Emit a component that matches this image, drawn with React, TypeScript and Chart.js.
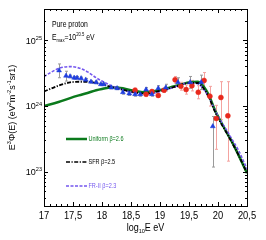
import { useEffect, useRef } from "react";
import { Chart, registerables } from "chart.js";
Chart.register(...registerables);

// ---- model curves (log10 E, E^3 Phi) ----
const modelEnergy = [17.0, 17.25, 17.45, 17.6, 17.75, 17.9, 18.0, 18.16, 18.25, 18.5, 18.75, 19.0, 19.25, 19.5, 19.65, 19.75, 19.85, 19.95, 20.05, 20.15, 20.25, 20.35, 20.5];
const uniformFlux = [1.0e24, 1.15e24, 1.32e24, 1.45e24, 1.58e24, 1.74e24, 1.82e24, 1.91e24, 1.91e24, 1.74e24, 1.62e24, 1.74e24, 2.0e24, 2.29e24, 2.34e24, 2.0e24, 1.41e24, 8.5e23, 5.75e23, 3.98e23, 2.75e23, 1.82e23, 9.5e22];
const sfrFlux = [1.66e24, 2.04e24, 2.29e24, 2.34e24, 2.34e24, 2.24e24, 2.14e24, 1.95e24, 1.86e24, 1.66e24, 1.55e24, 1.7e24, 1.95e24, 2.24e24, 2.24e24, 1.86e24, 1.32e24, 8.13e23, 5.5e23, 3.89e23, 2.69e23, 1.82e23, 9.5e22];
const fr2Flux = [2.82e24, 3.72e24, 3.98e24, 3.8e24, 3.31e24, 2.69e24, 2.4e24, 2.04e24, 1.91e24, 1.62e24, 1.51e24, 1.66e24, 1.95e24, 2.24e24, 2.19e24, 1.82e24, 1.32e24, 8.51e23, 5.89e23, 4.27e23, 3.02e23, 2.14e23, 1.1e23];

// ---- data: blue triangles ----
const blueEnergy = [17.26, 17.38, 17.45, 17.52, 17.57, 17.64, 17.72, 17.81, 17.9, 17.98, 18.03, 18.16, 18.26, 18.36, 18.47, 18.57, 18.66, 18.76, 18.86, 18.97, 19.1, 19.31, 19.52, 19.71, 19.91];
const blueFlux = [3.47e24, 2.88e24, 2.82e24, 2.69e24, 2.69e24, 2.63e24, 2.51e24, 2.34e24, 2.29e24, 2.14e24, 2.14e24, 1.91e24, 1.86e24, 1.62e24, 1.55e24, 1.51e24, 1.51e24, 1.78e24, 1.51e24, 1.86e24, 1.91e24, 2.29e24, 2.29e24, 2.29e24, 4.9e23];
const blueErrUpDex = [0.1, 0.07, 0.02, 0.02, 0.02, 0.02, 0.02, 0.02, 0.02, 0.02, 0.02, 0.02, 0.02, 0.03, 0.03, 0.03, 0.03, 0.03, 0.03, 0.04, 0.05, 0.07, 0.09, 0.11, 0.15];
const blueErrDownDex = [0.11, 0.08, 0.02, 0.02, 0.02, 0.02, 0.02, 0.02, 0.02, 0.02, 0.02, 0.02, 0.02, 0.03, 0.03, 0.03, 0.03, 0.03, 0.03, 0.04, 0.05, 0.07, 0.09, 0.11, 0.62];

// ---- data: red circles ----
const redEnergy = [18.57, 18.76, 18.86, 18.97, 19.07, 19.26, 19.36, 19.45, 19.55, 19.66, 19.76, 19.86, 19.97, 20.05, 20.17];
const redFlux = [1.74e24, 1.51e24, 1.66e24, 1.45e24, 1.74e24, 2.51e24, 2.0e24, 1.78e24, 2.04e24, 1.62e24, 2.45e24, 1.41e24, 6.46e23, 1.35e24, 7.08e23];
const redErrUpDex = [0.03, 0.03, 0.03, 0.03, 0.03, 0.05, 0.06, 0.07, 0.08, 0.1, 0.12, 0.15, 0.2, 0.24, 0.52];
const redErrDownDex = [0.03, 0.03, 0.03, 0.03, 0.03, 0.05, 0.06, 0.07, 0.08, 0.1, 0.12, 0.15, 0.47, 0.34, 0.69];

// ---- axes ----
const xTicks = [17, 17.5, 18, 18.5, 19, 19.5, 20, 20.5];
const yDecades = [23, 24, 25];

const FONT = '"Liberation Sans", Arial, Helvetica, sans-serif';
const GREEN = "#0b7a1c";
const PURPLE = "#7457ee";
const BLUE = "#1f3ee0";
const RED = "#e8281c";

type Seg = { t: string; k?: "sup" | "sub" };

function segFont(size: number, k?: string) {
  return `${k ? size * 0.62 : size}px ${FONT}`;
}
function richWidth(ctx: CanvasRenderingContext2D, segs: Seg[], size: number) {
  let w = 0;
  for (const s of segs) {
    ctx.font = segFont(size, s.k);
    w += ctx.measureText(s.t).width;
  }
  return w;
}
function drawRich(ctx: CanvasRenderingContext2D, segs: Seg[], x: number, y: number, size: number, align: "left" | "center" | "right", sx = 1, color = "#000", rot = 0) {
  ctx.save();
  ctx.translate(x, y);
  if (rot) ctx.rotate(rot);
  ctx.scale(sx, 1);
  ctx.fillStyle = color;
  ctx.textBaseline = "alphabetic";
  ctx.textAlign = "left";
  const w = richWidth(ctx, segs, size);
  let cx = align === "left" ? 0 : align === "center" ? -w / 2 : -w;
  for (const s of segs) {
    ctx.font = segFont(size, s.k);
    const dy = s.k === "sup" ? -size * 0.42 : s.k === "sub" ? size * 0.22 : 0;
    ctx.fillText(s.t, cx, dy);
    cx += ctx.measureText(s.t).width;
  }
  ctx.restore();
}

const decorPlugin = {
  id: "decor",
  beforeDatasetsDraw(chart: any) {
    const ctx: CanvasRenderingContext2D = chart.ctx;
    const xs = chart.scales.x;
    const ys = chart.scales.y;
    const bars = (E: number[], F: number[], up: number[], dn: number[], color: string) => {
      ctx.save();
      ctx.strokeStyle = color;
      ctx.lineWidth = 1;
      for (let i = 0; i < E.length; i++) {
        const px = Math.round(xs.getPixelForValue(E[i])) + 0.5;
        const y1 = ys.getPixelForValue(F[i] * Math.pow(10, up[i]));
        const y2 = ys.getPixelForValue(F[i] / Math.pow(10, dn[i]));
        ctx.beginPath();
        ctx.moveTo(px, y1);
        ctx.lineTo(px, y2);
        ctx.moveTo(px - 1.5, y1);
        ctx.lineTo(px + 1.5, y1);
        ctx.moveTo(px - 1.5, y2);
        ctx.lineTo(px + 1.5, y2);
        ctx.stroke();
      }
      ctx.restore();
    };
    bars(blueEnergy, blueFlux, blueErrUpDex, blueErrDownDex, "#9a9a9a");
    bars(redEnergy, redFlux, redErrUpDex, redErrDownDex, "#f4a3a0");
  },
  afterDraw(chart: any) {
    const ctx: CanvasRenderingContext2D = chart.ctx;
    const xs = chart.scales.x;
    const ys = chart.scales.y;
    const { left, right, top, bottom } = chart.chartArea;
    ctx.save();
    ctx.strokeStyle = "#000";
    ctx.lineWidth = 1;
    ctx.strokeRect(Math.round(left) + 0.5, Math.round(top) + 0.5, Math.round(right - left), Math.round(bottom - top));
    // x ticks
    ctx.beginPath();
    for (let k = 170; k <= 205; k++) {
      const v = k / 10;
      const px = Math.round(xs.getPixelForValue(v)) + 0.5;
      const len = k % 5 === 0 ? 4 : 2;
      ctx.moveTo(px, bottom);
      ctx.lineTo(px, bottom - len);
      ctx.moveTo(px, top);
      ctx.lineTo(px, top + len);
    }
    // y ticks
    for (let d = 22; d <= 25; d++) {
      for (let m = 1; m <= 9; m++) {
        const v = m * Math.pow(10, d);
        if (v < ys.min || v > ys.max) continue;
        const py = Math.round(ys.getPixelForValue(v)) + 0.5;
        const len = m === 1 ? 4 : 2;
        ctx.moveTo(left, py);
        ctx.lineTo(left + len, py);
        ctx.moveTo(right, py);
        ctx.lineTo(right - len, py);
      }
    }
    ctx.stroke();
    ctx.restore();

    // x tick labels
    for (const v of xTicks) {
      const px = xs.getPixelForValue(v);
      drawRich(ctx, [{ t: String(v).replace(".", ",") }], px, 219, 11, "center", 0.85);
    }
    // y tick labels
    for (const d of yDecades) {
      const py = ys.getPixelForValue(Math.pow(10, d));
      drawRich(ctx, [{ t: "10" }, { t: String(d), k: "sup" }], 42, py + 3.5, 9.5, "right", 0.95);
    }
    // axis titles
    drawRich(ctx, [{ t: "log" }, { t: "10", k: "sub" }, { t: "E eV" }], (left + right) / 2, 231, 10, "center", 0.9);
    drawRich(
      ctx,
      [{ t: "E" }, { t: "3", k: "sup" }, { t: "Φ(E) (eV" }, { t: "2", k: "sup" }, { t: "m" }, { t: "-2", k: "sup" }, { t: "s" }, { t: "-1", k: "sup" }, { t: "sr1)" }],
      14.5,
      (top + bottom) / 2,
      9,
      "center",
      1,
      "#000",
      -Math.PI / 2
    );
    // annotation
    drawRich(ctx, [{ t: "Pure proton" }], 52, 27, 9.5, "left", 0.72);
    drawRich(ctx, [{ t: "E" }, { t: "max", k: "sub" }, { t: "=10" }, { t: "20.5", k: "sup" }, { t: " eV" }], 52, 39.5, 9.5, "left", 0.72);

    // legend
    const leg = [
      { label: "Uniform β=2.6", color: GREEN, dash: [] as number[], w: 2.5, y: 139, tc: GREEN },
      { label: "SFR β=2.5", color: "#000", dash: [4, 1.5, 1.2, 1.5], w: 1.5, y: 162, tc: "#000" },
      { label: "FR-II β=2.3", color: PURPLE, dash: [3, 1.5], w: 1.5, y: 186, tc: PURPLE },
    ];
    for (const l of leg) {
      ctx.save();
      ctx.strokeStyle = l.color;
      ctx.lineWidth = l.w;
      ctx.setLineDash(l.dash);
      ctx.beginPath();
      ctx.moveTo(66, l.y);
      ctx.lineTo(87, l.y);
      ctx.stroke();
      ctx.restore();
      drawRich(ctx, [{ t: l.label }], 88.5, l.y + 2.3, 6.5, "left", 0.85, l.tc);
    }
  },
};

export default function App() {
  const ref = useRef<HTMLCanvasElement>(null);
  useEffect(() => {
    if (!ref.current) return;
    const pts = (E: number[], F: number[]) => E.map((e, i) => ({ x: e, y: F[i] }));
    const chart = new Chart(ref.current, {
      type: "line",
      data: {
        datasets: [
          {
            label: "data1",
            data: pts(blueEnergy, blueFlux),
            showLine: false,
            pointStyle: "triangle",
            pointRadius: 2.8,
            backgroundColor: BLUE,
            borderColor: BLUE,
            borderWidth: 0.5,
          },
          {
            label: "data2",
            data: pts(redEnergy, redFlux),
            showLine: false,
            pointStyle: "circle",
            pointRadius: 2.5,
            backgroundColor: RED,
            borderColor: RED,
            borderWidth: 0.5,
          },
          {
            label: "SFR β=2.5",
            data: pts(modelEnergy, sfrFlux),
            borderColor: "#000",
            borderWidth: 1.8,
            borderDash: [4, 1.5, 1.2, 1.5],
            pointRadius: 0,
            cubicInterpolationMode: "monotone",
          },
          {
            label: "FR-II β=2.3",
            data: pts(modelEnergy, fr2Flux),
            borderColor: PURPLE,
            borderWidth: 1.6,
            borderDash: [3, 1.5],
            pointRadius: 0,
            cubicInterpolationMode: "monotone",
          },
          {
            label: "Uniform β=2.6",
            data: pts(modelEnergy, uniformFlux),
            borderColor: GREEN,
            borderWidth: 2.5,
            pointRadius: 0,
            cubicInterpolationMode: "monotone",
          },
        ],
      },
      options: {
        animation: false,
        responsive: false,
        devicePixelRatio: 1,
        layout: { padding: { top: 9, right: 19, left: 0, bottom: 0 } },
        plugins: { legend: { display: false }, tooltip: { enabled: false } },
        scales: {
          x: {
            type: "linear",
            min: 17,
            max: 20.5,
            ticks: { display: false },
            grid: { display: false },
            border: { display: false },
            afterFit: (s: any) => {
              s.height = 34;
            },
          },
          y: {
            type: "logarithmic",
            min: 3e22,
            max: 3e25,
            ticks: { display: false },
            grid: { display: false },
            border: { display: false },
            afterFit: (s: any) => {
              s.width = 44;
            },
          },
        },
      } as any,
      plugins: [decorPlugin],
    });
    return () => chart.destroy();
  }, []);
  return (
    <div style={{ position: "fixed", left: 0, top: 0, width: 266, height: 240, background: "#fff" }}>
      <canvas ref={ref} width={266} height={240} style={{ width: 266, height: 240 }} />
    </div>
  );
}
